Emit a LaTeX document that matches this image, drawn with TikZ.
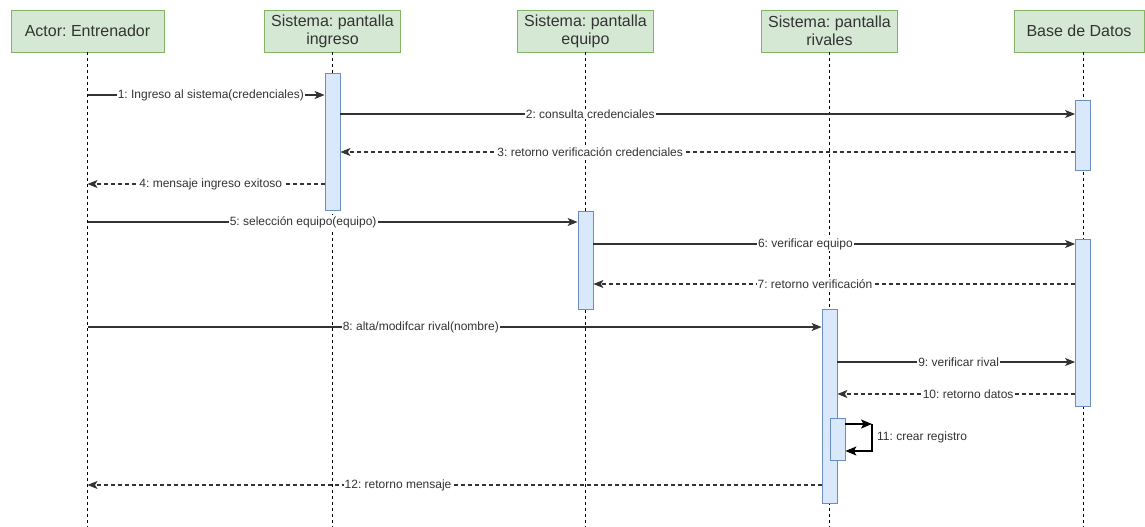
\documentclass[tikz,border=0pt]{standalone}
\usepackage{fontspec}
\setmainfont{Liberation Sans}
\usetikzlibrary{arrows.meta}
\definecolor{headfill}{HTML}{D5E8D4}
\definecolor{headline}{HTML}{82B366}
\definecolor{barfill}{HTML}{DAE8FC}
\definecolor{barline}{HTML}{6C8EBF}
\definecolor{ink}{HTML}{333333}
\frenchspacing

\begin{document}
\begin{tikzpicture}[x=1pt, y=-1pt,
    head/.style={draw=headline, fill=headfill, line width=0.8pt, minimum width=136pt,
        minimum height=42pt, align=center, inner sep=1pt, text=ink,
        font=\fontsize{16}{18}\selectfont},
    lifeline/.style={draw=black, line width=0.9pt, dash pattern=on 3pt off 3pt},
    bar/.style={draw=barline, fill=barfill, line width=0.8pt, minimum width=15pt,
        inner sep=0pt, anchor=north},
    msg/.style={draw=ink, line width=1.2pt, -{Stealth[length=10pt, width=8pt, inset=2.5pt]}},
    ret/.style={msg, dash pattern=on 4pt off 3pt},
    selfmsg/.style={draw=black, line width=1.5pt, -{Stealth[length=11pt, width=9pt, inset=2.5pt]}},
    lbl/.style={fill=white, inner sep=1pt, text=ink, font=\fontsize{12}{14}\selectfont}]
    \useasboundingbox (0,0) rectangle (1145,527);

    % cabeceras
    \node[head, minimum width=153pt] (actor) at (87.5,31) {Actor: Entrenador};
    \node[head] (ingreso) at (332.5,31) {Sistema: pantalla\\ingreso};
    \node[head] (equipo) at (585.5,31) {Sistema: pantalla\\equipo};
    \node[head] (rivales) at (829.5,31) {Sistema: pantalla\\rivales};
    \node[head, minimum width=130pt] (datos) at (1079,31) {Base de Datos};

    % lineas de vida
    \foreach \n in {actor, ingreso, equipo, rivales}
        \draw[lifeline] (\n.south) -- (\n.south |- 0,527);
    \coordinate (datostop) at (1083,52);
    \draw[lifeline] (datostop) -- (datostop |- 0,527);

    % activaciones
    \node[bar, minimum height=137pt] (ingbar) at (332.5,73) {};
    \node[bar, minimum height=70pt] (bdbar1) at (1083,100) {};
    \node[bar, minimum height=98pt] (equbar) at (585.5,211) {};
    \node[bar, minimum height=167pt] (bdbar2) at (1083,239) {};
    \node[bar, minimum height=194pt] (rivbar) at (829.5,309) {};
    \node[bar, minimum height=42pt] (regbar) at (837.5,418) {};

    % ingreso
    \draw[msg] (actor.south |- 0,95) -- (ingbar.west |- 0,95)
        node[lbl, pos=0.52] (m1) {1: Ingreso al sistema(credenciales)};
    \draw[msg] (ingbar.east |- 0,114) -- (bdbar1.west |- 0,114)
        node[lbl, pos=0.34] (m2) {2: consulta credenciales};
    \draw[ret] (bdbar1.west |- 0,152) -- (ingbar.east |- 0,152)
        node[lbl, pos=0.66] (m3) {3: retorno verificación credenciales};
    \draw[ret] (ingbar.west |- 0,184) -- (actor.south |- 0,184)
        node[lbl, pos=0.48] (m4) {4: mensaje ingreso exitoso};

    % equipo
    \draw[msg] (actor.south |- 0,222) -- (equbar.west |- 0,222)
        node[lbl, pos=0.44] (m5) {5: selección equipo(equipo)};
    \draw[msg] (equbar.east |- 0,244) -- (bdbar2.west |- 0,244)
        node[lbl, pos=0.44] (m6) {6: verificar equipo};
    \draw[ret] (bdbar2.west |- 0,284) -- (equbar.east |- 0,284)
        node[lbl, pos=0.54] (m7) {7: retorno verificación};

    % rivales
    \draw[msg] (actor.south |- 0,327) -- (rivbar.west |- 0,327)
        node[lbl, pos=0.454] (m8) {8: alta/modifcar rival(nombre)};
    \draw[msg] (rivbar.east |- 0,362) -- (bdbar2.west |- 0,362)
        node[lbl, pos=0.51] (m9) {9: verificar rival};
    \draw[ret] (bdbar2.west |- 0,394) -- (rivbar.east |- 0,394)
        node[lbl, pos=0.45] (m10) {10: retorno datos};

    % autollamada
    \coordinate (selfcorner) at (872,424);
    \draw[selfmsg] (regbar.east |- selfcorner) -- (selfcorner);
    \draw[selfmsg] (selfcorner) -- ++(0,27) -- (regbar.east |- 0,451);
    \node[lbl, anchor=west] (m11) at (876,437) {11: crear registro};

    \draw[ret] (rivbar.west |- 0,485) -- (actor.south |- 0,485)
        node[lbl, pos=0.577] (m12) {12: retorno mensaje};
\end{tikzpicture}
\end{document}
